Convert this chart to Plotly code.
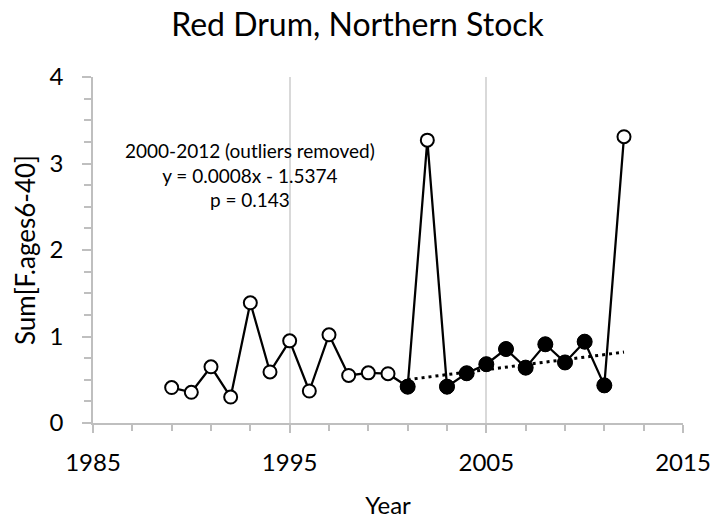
import numpy as np
import plotly.graph_objects as go

years = list(range(1989, 2013))
values = [0.41, 0.355, 0.65, 0.30, 1.39, 0.59, 0.95, 0.37, 1.02, 0.55, 0.58, 0.57,
          0.42, 3.27, 0.42, 0.575, 0.68, 0.855, 0.64, 0.91, 0.70, 0.94, 0.435, 3.31]

fit_years = [2001, 2003, 2004, 2005, 2006, 2007, 2008, 2009, 2010, 2011]
fit_values = [values[years.index(y)] for y in fit_years]
trend_x = [2001, 2012]

x_ticks = [1985, 1995, 2005, 2015]
y_ticks = [0, 1, 2, 3, 4]

title_text = "Red Drum, Northern Stock"
x_title = "Year"
y_title = "Sum[F.ages6-40]"
note_lines = ["2000-2012 (outliers removed)", "y = 0.0008x - 1.5374", "p = 0.143"]

slope, intercept = np.polyfit(fit_years, fit_values, 1)
trend_y = [slope * x + intercept for x in trend_x]

FONT = "Lato"

fig = go.Figure()
fig.add_trace(go.Scatter(
    x=trend_x, y=trend_y, mode="lines",
    line=dict(color="black", width=3, dash="3px,4px"),
    hoverinfo="skip", showlegend=False))
fig.add_trace(go.Scatter(
    x=years, y=values, mode="lines+markers",
    line=dict(color="black", width=2.25),
    marker=dict(symbol="circle", size=13, color="white",
                line=dict(color="black", width=2)),
    showlegend=False))
fig.add_trace(go.Scatter(
    x=fit_years, y=fit_values, mode="markers",
    marker=dict(symbol="circle", size=15, color="black",
                line=dict(color="black", width=1)),
    showlegend=False))

fig.add_annotation(
    x=1993, y=2.87, xref="x", yref="y",
    text="<br>".join(note_lines), showarrow=False,
    font=dict(family=FONT, size=19, color="black"),
    align="center", xanchor="center", yanchor="middle")

fig.update_layout(
    width=715, height=521,
    margin=dict(l=93, r=32, t=77, b=98, autoexpand=False),
    paper_bgcolor="white", plot_bgcolor="white",
    title=dict(text=title_text, x=0.5, xref="container", xanchor="center",
               y=1 - 25 / 521, yref="container", yanchor="middle",
               font=dict(family=FONT, size=32, color="black")),
    font=dict(family=FONT, color="black"),
)

fig.update_xaxes(
    range=[1985, 2015], tickmode="array", tickvals=x_ticks,
    ticktext=[str(v) for v in x_ticks],
    showgrid=True, gridcolor="#d9d9d9", gridwidth=1.5,
    showline=True, linecolor="#bfbfbf", linewidth=1.5,
    ticks="outside", ticklen=8, tickcolor="#bfbfbf", tickwidth=1.5,
    minor=dict(tick0=1985, dtick=2, ticks="outside", ticklen=6,
               tickcolor="#bfbfbf", tickwidth=1.5, showgrid=False),
    tickfont=dict(family=FONT, size=24, color="black"),
    ticklabelstandoff=9,
    zeroline=False,
    title=dict(text=x_title, font=dict(family=FONT, size=24, color="black"), standoff=23),
)
fig.update_yaxes(
    range=[0, 4], tickmode="array", tickvals=y_ticks,
    ticktext=[str(v) for v in y_ticks],
    showgrid=False,
    showline=True, linecolor="#bfbfbf", linewidth=1.5,
    ticks="outside", ticklen=9, tickcolor="#bfbfbf", tickwidth=1.5,
    minor=dict(tick0=0, dtick=0.25, ticks="outside", ticklen=7,
               tickcolor="#bfbfbf", tickwidth=1.5, showgrid=False),
    tickfont=dict(family=FONT, size=24, color="black"),
    ticklabelstandoff=14,
    zeroline=False,
    title=dict(text=y_title, font=dict(family=FONT, size=26, color="black"), standoff=6),
)

fig.write_html("out.html")
